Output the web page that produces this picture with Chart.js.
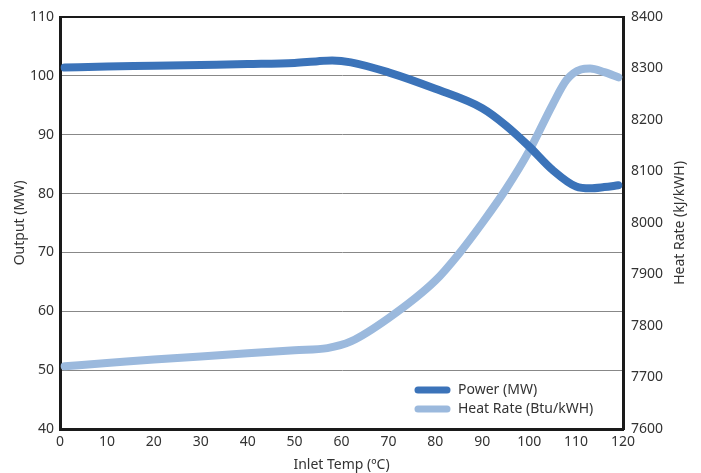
<!DOCTYPE html>
<html><head><meta charset="utf-8">
<script src="https://cdn.jsdelivr.net/npm/chart.js@4.4.0/dist/chart.umd.min.js"></script>
<style>html,body{margin:0;padding:0;background:#fff;}#wrap{width:701px;height:473px;}</style>
</head><body><div id="wrap"><canvas id="c" width="701" height="473"></canvas></div>
<script>
const powerTemps = [1,10,20,30,40,50,55,58,62,70,80,90,95,100,105,110,113,116,119];
const powerValues = [101.4,101.6,101.7,101.85,102.0,102.2,102.5,102.6,102.3,100.6,97.8,94.5,91.6,88.0,84.0,81.2,80.9,81.1,81.4];
const heatTemps = [1,10,20,30,40,50,57,62,70,80,85,90,95,100,105,108,111,113,116,119];
const heatValues = [7722,7728,7735,7741,7747,7753,7757,7770,7815,7888,7940,8000,8065,8140,8230,8278,8298,8300,8293,8283];
const xTicks = [0,10,20,30,40,50,60,70,80,90,100,110,120];

const pts = (xs, ys) => xs.map((x,i)=>({x:x,y:ys[i]}));
const FONT = "'Noto Sans', sans-serif";
const TXT = '#333';
const rightTitle = 'Heat Rate (kJ/kWH)';

const frame = {
  id:'frame',
  afterDatasetsDraw(chart){
    const {ctx, chartArea:a} = chart;
    ctx.save();
    ctx.strokeStyle = '#1a1a1a';
    ctx.lineWidth = 2;
    ctx.beginPath(); ctx.moveTo(a.left, a.top); ctx.lineTo(a.right, a.top); ctx.stroke();
    ctx.restore();
  },
  afterDraw(chart){
    const {ctx, chartArea:a} = chart;
    ctx.save();
    ctx.translate(680, (a.top+a.bottom)/2);
    ctx.rotate(-Math.PI/2);
    ctx.font = "14px "+FONT; ctx.fillStyle = TXT;
    ctx.textAlign='center'; ctx.textBaseline='middle';
    ctx.fillText(rightTitle, 0, 0);
    ctx.restore();
  }
};

new Chart(document.getElementById('c'), {
  type:'line',
  data:{datasets:[
    {label:'Power (MW)', data:pts(powerTemps,powerValues), yAxisID:'y', borderColor:'#3b73b9', backgroundColor:'#3b73b9', borderWidth:8, pointRadius:0, cubicInterpolationMode:'monotone', borderCapStyle:'round', borderJoinStyle:'round'},
    {label:'Heat Rate (Btu/kWH)', data:pts(heatTemps,heatValues), yAxisID:'y2', borderColor:'#9bb9dd', backgroundColor:'#9bb9dd', borderWidth:8, pointRadius:0, cubicInterpolationMode:'monotone', borderCapStyle:'round', borderJoinStyle:'round'}
  ]},
  options:{
    responsive:false, animation:false, devicePixelRatio:1,
    layout:{padding:{left:12,right:0,top:17,bottom:0}},
    plugins:{
      legend:{display:false},
      tooltip:{enabled:false}
    },
    scales:{
      x:{type:'linear', min:0, max:120,
        afterBuildTicks:(s)=>{s.ticks = xTicks.map(v=>({value:v}));},
        grid:{display:false, drawTicks:false},
        border:{display:true, color:'#1a1a1a', width:3},
        ticks:{color:TXT, font:{family:FONT,size:14}, padding:5, maxRotation:0},
        title:{display:true, text:'Inlet Temp (ºC)', color:TXT, font:{family:FONT,size:14}, padding:{top:0,bottom:0}},
        afterFit:(s)=>{s.height = 44;}
      },
      y:{position:'left', min:40, max:110,
        ticks:{stepSize:10, color:TXT, font:{family:FONT,size:14}, padding:6},
        grid:{color:'#888', lineWidth:1, drawTicks:false},
        border:{display:true, color:'#1a1a1a', width:3},
        title:{display:true, text:'Output (MW)', color:TXT, font:{family:FONT,size:14}, padding:{top:0,bottom:4}},
        afterFit:(s)=>{s.width = 48;}
      },
      y2:{position:'right', min:7600, max:8400,
        ticks:{stepSize:100, color:TXT, font:{family:FONT,size:14}, padding:3, callback:(v)=>String(v)},
        grid:{display:false, drawOnChartArea:false, drawTicks:true, tickLength:5, tickColor:'#1a1a1a', tickWidth:2},
        border:{display:true, color:'#1a1a1a', width:3},
        afterFit:(s)=>{s.width = 78;}
      }
    }
  },
  plugins:[frame,{
    id:'legendBox',
    afterDraw(chart){
      const {ctx} = chart;
      const items = chart.data.datasets;
      const x0 = 418, y0 = 390;
      ctx.save();
      ctx.font = "14px "+FONT;
      ctx.textBaseline='middle';
      items.forEach((d,i)=>{
        const y = y0 + i*19;
        ctx.strokeStyle = d.borderColor; ctx.lineWidth = 7; ctx.lineCap='round';
        ctx.beginPath(); ctx.moveTo(x0, y); ctx.lineTo(x0+29, y); ctx.stroke();
        ctx.fillStyle = TXT;
        ctx.fillText(d.label, x0+40, y);
      });
      ctx.restore();
    }
  }]
});
</script></body></html>
